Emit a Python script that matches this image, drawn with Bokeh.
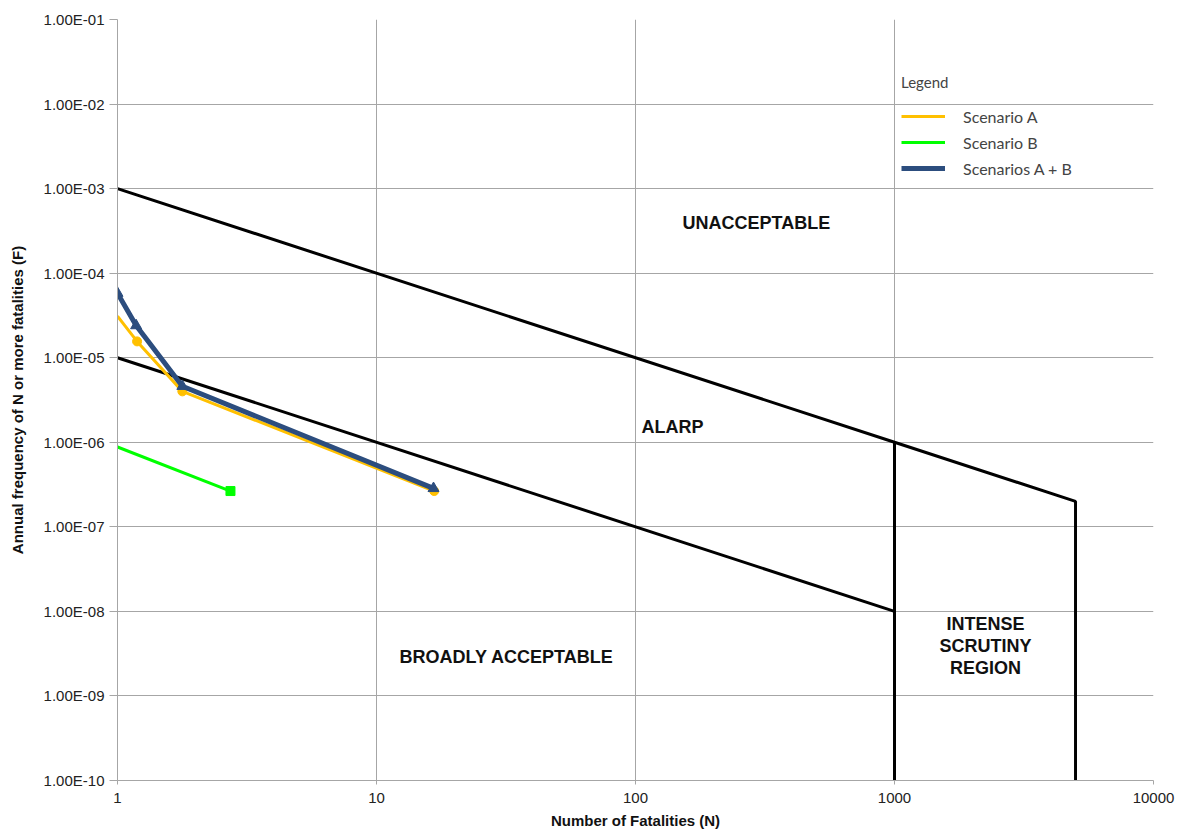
from bokeh.plotting import figure
from bokeh.models import (Range1d, FixedTicker, CustomJSTickFormatter, Label,
                          Legend, LegendItem)
from bokeh.embed import file_html
from bokeh.resources import INLINE

# ---- data ----
upper_n = [1, 1000, 5000, 5000]
upper_f = [1e-3, 1e-6, 2e-7, 1e-10]
lower_n = [1, 1000]
lower_f = [1e-5, 1e-8]
vert_n = [1000, 1000]
vert_f = [1e-6, 1e-10]

scen_a_n = [1, 1.19, 1.78, 16.7]
scen_a_f = [3.1e-5, 1.56e-5, 4.0e-6, 2.65e-7]
scen_b_n = [1, 2.73]
scen_b_f = [8.8e-7, 2.65e-7]
scen_ab_n = [1, 1.18, 1.78, 16.6]
scen_ab_f = [5.8e-5, 2.4e-5, 4.6e-6, 2.85e-7]

x_ticks = [1, 10, 100, 1000, 10000]
y_ticks = [1e-10, 1e-9, 1e-8, 1e-7, 1e-6, 1e-5, 1e-4, 1e-3, 1e-2, 1e-1]

p = figure(frame_width=1036, frame_height=761, x_axis_type="log", y_axis_type="log",
           x_range=Range1d(1, 10000), y_range=Range1d(1e-10, 1e-1),
           output_backend="svg", toolbar_location=None,
           min_border_left=117, min_border_right=22, min_border_top=19,
           min_border_bottom=48)
p.outline_line_color = None
p.background_fill_color = "white"

GRID = "#a6a6a6"
p.xgrid.grid_line_color = GRID
p.ygrid.grid_line_color = GRID
p.xaxis.ticker = FixedTicker(ticks=x_ticks, minor_ticks=[])
p.yaxis.ticker = FixedTicker(ticks=y_ticks, minor_ticks=[])
p.xgrid.ticker = FixedTicker(ticks=x_ticks, minor_ticks=[])
p.ygrid.ticker = FixedTicker(ticks=y_ticks, minor_ticks=[])
p.xaxis.formatter = CustomJSTickFormatter(code="return String(Math.round(tick));")
p.yaxis.formatter = CustomJSTickFormatter(code=r"""
var s = tick.toExponential(2).toUpperCase();
return s.replace(/E([+-])(\d)$/, 'E$10$2');
""")
for ax in (p.xaxis, p.yaxis):
    ax.axis_line_color = GRID
    ax.major_tick_line_color = GRID
    ax.minor_tick_line_color = None
    ax.major_tick_in = 0
    ax.major_label_text_font = "Liberation Sans"
    ax.major_label_text_font_size = "15px"
    ax.major_label_text_color = "#222222"
    ax.axis_label_text_font = "Liberation Sans"
    ax.axis_label_text_font_style = "bold"
    ax.axis_label_text_font_size = "15px"
    ax.axis_label_text_color = "#111111"
p.yaxis.major_tick_out = 8
p.xaxis.major_tick_out = 4
p.yaxis.major_label_standoff = 5
p.xaxis.major_label_standoff = 8
p.xaxis.axis_label = "Number of Fatalities (N)"
p.yaxis.axis_label = "Annual frequency of N or more fatalities (F)"
p.xaxis.axis_label_standoff = 6
p.yaxis.axis_label_standoff = 15

# criterion lines
p.line(upper_n, upper_f, line_color="black", line_width=3)
p.line(lower_n, lower_f, line_color="black", line_width=3)
p.line(vert_n, vert_f, line_color="black", line_width=3)

# scenarios
ra = p.line(scen_a_n, scen_a_f, line_color="#FFC000", line_width=3)
p.scatter(scen_a_n[1:], scen_a_f[1:], marker="circle", size=9, color="#FFC000")
rb = p.line(scen_b_n, scen_b_f, line_color="#00FF00", line_width=3)
p.scatter(scen_b_n[1:], scen_b_f[1:], marker="square", size=9, color="#00FF00")
rab = p.line(scen_ab_n, scen_ab_f, line_color="#2C4D7E", line_width=5)
p.scatter(scen_ab_n, scen_ab_f, marker="triangle", size=11, color="#2C4D7E")

# region labels
lbl = dict(text_font="Liberation Sans", text_font_style="bold",
           text_font_size="18px", text_align="center", text_baseline="middle",
           text_color="#111111")
p.add_layout(Label(x=293, y=3.9e-4, text="UNACCEPTABLE", **lbl))
p.add_layout(Label(x=139, y=1.5e-6, text="ALARP", **lbl))
p.add_layout(Label(x=31.8, y=2.9e-9, text="BROADLY ACCEPTABLE", **lbl))
p.add_layout(Label(x=2245, y=3.9e-9, text="INTENSE\nSCRUTINY\nREGION",
                   text_line_height=1.12, **lbl))

legend = Legend(items=[LegendItem(label="Scenario A", renderers=[ra]),
                       LegendItem(label="Scenario B", renderers=[rb]),
                       LegendItem(label="Scenarios A + B", renderers=[rab])],
                title="Legend", location=(778, 595),
                background_fill_alpha=0, border_line_alpha=0,
                label_text_font="Lato", label_text_font_size="16px",
                title_text_font="Lato", title_text_font_size="15px",
                title_text_font_style="normal", title_standoff=14,
                glyph_width=44, glyph_height=22, label_height=22,
                label_standoff=18, spacing=4, padding=6, margin=0)
p.add_layout(legend, "center")

open("out.html", "w").write(file_html(p, INLINE))
